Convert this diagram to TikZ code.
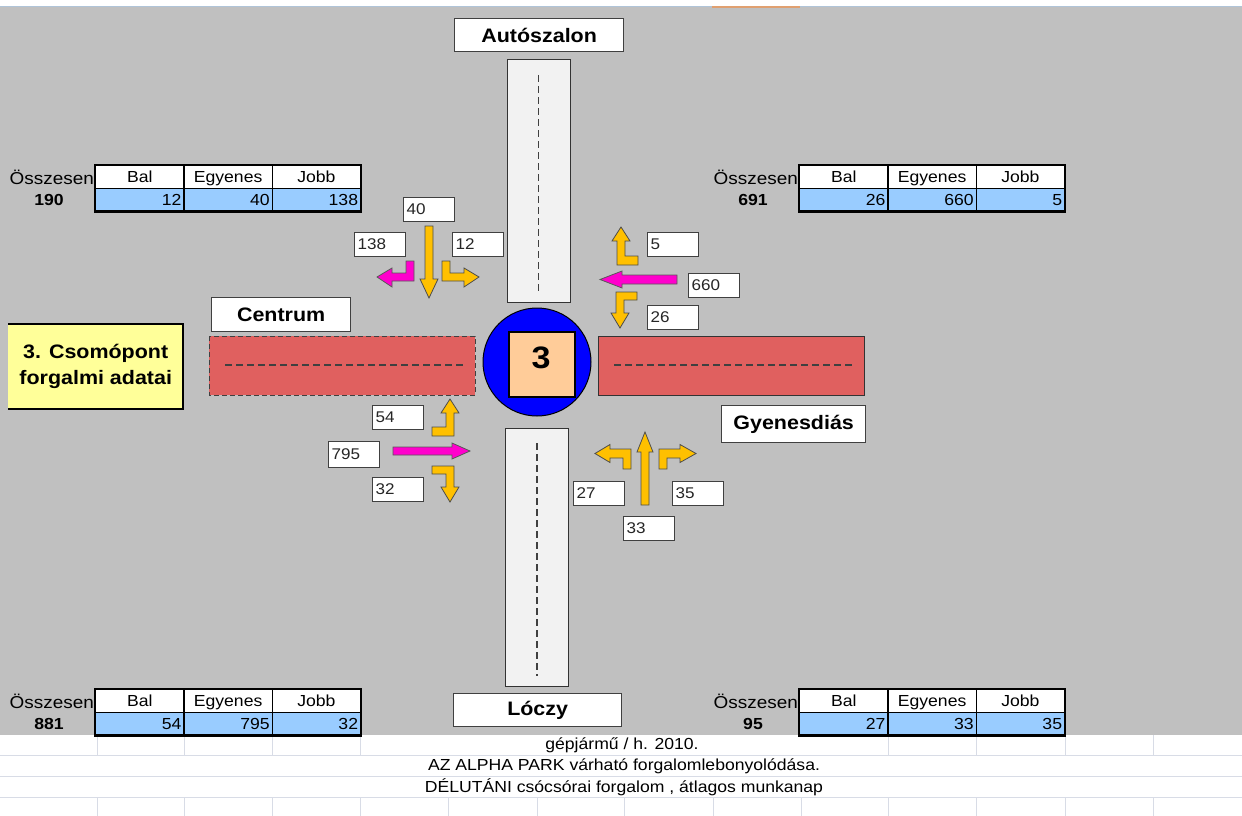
\documentclass[tikz,border=0pt]{standalone}
\usepackage{fontspec}
\setmainfont{Liberation Sans}[FakeStretch=1.1]
\definecolor{bggray}{HTML}{C0C0C0}
\definecolor{roadlight}{HTML}{F2F2F2}
\definecolor{roadred}{HTML}{E0605F}
\definecolor{peach}{HTML}{FFCC99}
\definecolor{lightyel}{HTML}{FFFF99}
\definecolor{tblue}{HTML}{99CCFF}
\definecolor{arryel}{HTML}{FFC000}
\definecolor{arrmag}{HTML}{FF00CC}
\definecolor{gridln}{HTML}{D8DCE6}
\definecolor{topline}{HTML}{B0C4D8}
\definecolor{orangeln}{HTML}{E0A070}
\tikzset{
  hdrcell/.style={draw=black, line width=1.3, fill=white, anchor=north west,
    minimum width=88.3, minimum height=23, inner sep=0, text height=11.5, text depth=0,
    font=\fontsize{16}{16}\selectfont},
  valcell/.style={hdrcell, fill=tblue, minimum height=22, text width=83.3, inner xsep=2.5, align=right},
  lbl/.style={inner sep=0, font=\fontsize{16}{16}\selectfont},
  numbox/.style={draw=black!75, line width=1.1, fill=white, anchor=north west,
    minimum width=51, minimum height=24, text width=45, inner xsep=3, inner ysep=0,
    align=left, font=\fontsize{15.5}{15.5}\selectfont, text=black!85},
  street/.style={draw=black!75, line width=1.3, fill=white, anchor=north west, inner sep=0,
    font=\bfseries\fontsize{19.5}{19.5}\selectfont},
  arrY/.style={fill=arryel, draw=black!70, line width=0.8},
  arrM/.style={fill=arrmag, draw=black!65, line width=0.8},
  cline/.style={draw=black!75, line width=1.2, dash pattern=on 7pt off 4pt},
  bottxt/.style={inner sep=0, font=\fontsize{16}{16}\selectfont}
}
\newcommand\flowtable[7]{%
  \node[hdrcell] (#7b) at (#1,#2) {Bal};
  \node[hdrcell] (#7e) at ({#1+88.3},#2) {Egyenes};
  \node[hdrcell] (#7j) at ({#1+176.6},#2) {Jobb};
  \node[valcell] (#7vb) at (#1,{#2+23}) {#4};
  \node[valcell] (#7ve) at ({#1+88.3},{#2+23}) {#5};
  \node[valcell] (#7vj) at ({#1+176.6},{#2+23}) {#6};
  \draw[line width=2.4] (#7b.north west) rectangle (#7vj.south east);
  \node[lbl, anchor=east, font=\fontsize{17.2}{17}\selectfont] (#7o) at ({#1-1},{#2+12}) {Összesen};
  \node[lbl, font=\bfseries\fontsize{16}{16}\selectfont] (#7t) at ({#1-46},{#2+34.5}) {#3};
}
\begin{document}
\begin{tikzpicture}[x=1pt,y=-1pt]
\useasboundingbox (0,0) rectangle (1242,816);
% background
\fill[white] (0,0) rectangle (1242,816);
\fill[bggray] (0,7) rectangle (1242,735);
\draw[topline, line width=1] (0,7) -- (1242,7);
\draw[orangeln, line width=2] (712,7) -- (800,7);
% bottom grid
\foreach \yy in {755,776,797} \draw[gridln, line width=1] (0,\yy) -- (1242,\yy);
\foreach \xx in {97,184,272,360,888,976,1065,1153} \draw[gridln, line width=1] (\xx,735) -- (\xx,755);
\foreach \xx in {97,184,272,360,448,537,624,713,801,888,976,1065,1153} \draw[gridln, line width=1] (\xx,797) -- (\xx,816);
\node[bottxt] (t1) at (622,745.5) {gépjármű / h. 2010.};
\node[bottxt] (t2) at (624,766) {AZ ALPHA PARK várható forgalomlebonyolódása.};
\node[bottxt] (t3) at (624,787) {DÉLUTÁNI csócsórai forgalom , átlagos munkanap};
% roads
\draw[fill=roadlight, draw=black!80, line width=1] (507,60) rectangle (570,302);
\draw[cline] (538.5,75) -- (538.5,292);
\draw[fill=roadlight, draw=black!80, line width=1] (505,428) rectangle (568,686);
\draw[cline] (537,443) -- (537,676);
\draw[fill=roadred, draw=black!75, line width=1, dash pattern=on 5pt off 3pt] (209,336) rectangle (475,395);
\draw[cline] (225,365) -- (466,365);
\draw[fill=roadred, draw=black!80, line width=1] (598,336) rectangle (864,395);
\draw[cline] (614,365) -- (853,365);
% roundabout
\node[circle, fill=blue, draw=black, line width=1, minimum size=108, inner sep=0] (rb) at (537,362) {};
\node[fill=peach, draw=black, line width=1.3, minimum width=66, minimum height=65, inner sep=0] (sq) at (542,364.5) {};
\node[inner sep=0, font=\bfseries\fontsize{31}{31}\selectfont] (num3) at (541,358) {3};
% street labels
\node[street, minimum width=169, minimum height=33] (auto) at (454,18) {Autószalon};
\node[street, minimum width=139, minimum height=34] (centr) at (211,297) {Centrum};
\node[street, minimum width=144, minimum height=37] (gyen) at (721,405) {Gyenesdiás};
\node[street, minimum width=168, minimum height=33] (locz) at (453,693) {Lóczy};
% info box
\node[fill=lightyel, minimum width=175, minimum height=85, anchor=north west, inner sep=0,
  align=center, font=\bfseries\fontsize{19.5}{26}\selectfont] (csp) at (8,324) {3. Csomópont\\forgalmi adatai};
\draw[line width=2] (csp.north west) -- (csp.north east) -- (csp.south east) -- (csp.south west);
% arrows NW
\filldraw[arrY] (425,226) -- (433,226) -- (433,279) -- (438,279) -- (429,298) -- (420,279) -- (425,279) -- cycle;
\filldraw[arrM] (406,261) -- (414,261) -- (414,281) -- (392,281) -- (392,287) -- (377,277) -- (392,268) -- (392,273) -- (406,273) -- cycle;
\filldraw[arrY] (442,261) -- (450,261) -- (450,273) -- (464,273) -- (464,268) -- (479,277) -- (464,287) -- (464,281) -- (442,281) -- cycle;
% arrows NE
\filldraw[arrY] (638,265) -- (617,265) -- (617,241) -- (612,241) -- (621,227) -- (630,241) -- (625,241) -- (625,256) -- (638,256) -- cycle;
\filldraw[arrM] (677,275) -- (622,275) -- (622,271) -- (600,279.5) -- (622,288) -- (622,284) -- (677,284) -- cycle;
\filldraw[arrY] (637,292) -- (637,300) -- (624,300) -- (624,313) -- (629,313) -- (620,328) -- (611,313) -- (616,313) -- (616,292) -- cycle;
% arrows SW
\filldraw[arrY] (432,427) -- (446,427) -- (446,413) -- (441,413) -- (450,399) -- (459,413) -- (454,413) -- (454,436) -- (432,436) -- cycle;
\filldraw[arrM] (393,447) -- (452,447) -- (452,443) -- (470,451) -- (452,459) -- (452,455) -- (393,455) -- cycle;
\filldraw[arrY] (432,466) -- (454,466) -- (454,487) -- (459,487) -- (450,502) -- (441,487) -- (446,487) -- (446,474) -- (432,474) -- cycle;
% arrows SE
\filldraw[arrY] (641,505) -- (641,452) -- (637,452) -- (645,432) -- (653,452) -- (649,452) -- (649,505) -- cycle;
\filldraw[arrY] (623,469) -- (631,469) -- (631,449) -- (610,449) -- (610,444.5) -- (595,453.5) -- (610,462.5) -- (610,458) -- (623,458) -- cycle;
\filldraw[arrY] (667,469) -- (659,469) -- (659,449) -- (680,449) -- (680,444.5) -- (696,453.5) -- (680,462.5) -- (680,458) -- (667,458) -- cycle;
% number boxes
\node[numbox] (b40) at (403,197) {40};
\node[numbox] (b138) at (354,232) {138};
\node[numbox] (b12) at (452,232) {12};
\node[numbox] (b5) at (647,232) {5};
\node[numbox] (b660) at (688,273) {660};
\node[numbox] (b26) at (647,305) {26};
\node[numbox] (b54) at (372,405) {54};
\node[numbox, minimum height=26] (b795) at (328,441) {795};
\node[numbox] (b32) at (372,477) {32};
\node[numbox] (b27) at (573,481) {27};
\node[numbox] (b35) at (672,481) {35};
\node[numbox] (b33) at (623,516) {33};
% tables
\flowtable{95}{165}{190}{12}{40}{138}{tnw}
\flowtable{799}{165}{691}{26}{660}{5}{tne}
\flowtable{95}{689}{881}{54}{795}{32}{tsw}
\flowtable{799}{689}{95}{27}{33}{35}{tse}
\end{tikzpicture}
\end{document}
